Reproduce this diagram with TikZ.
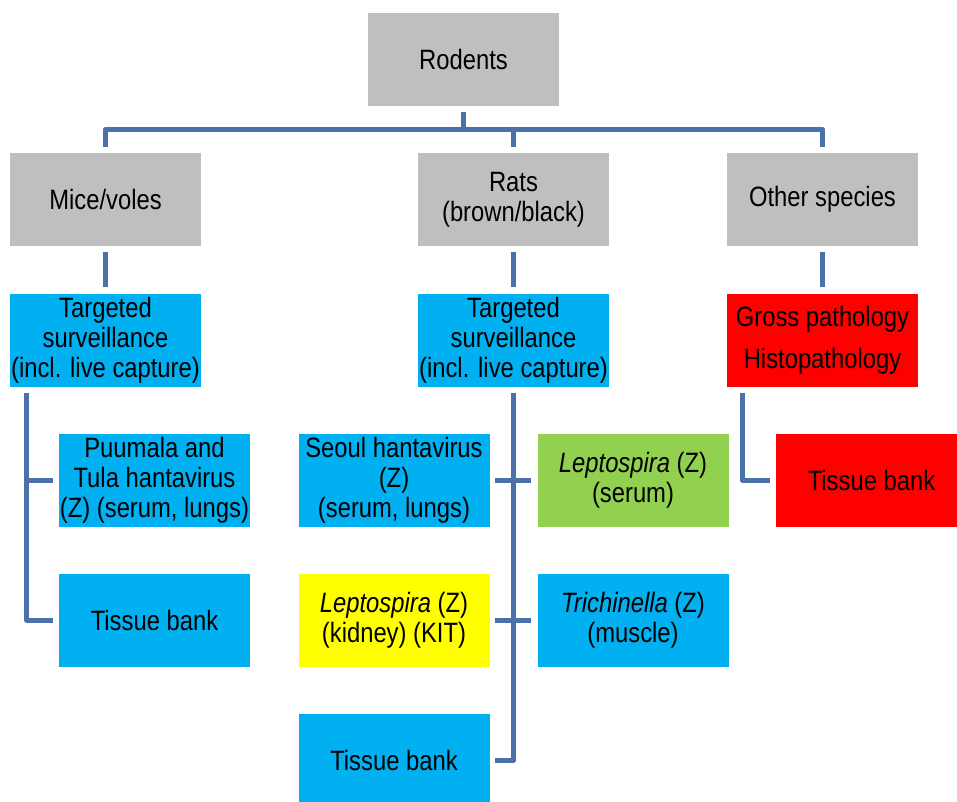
\documentclass[tikz,border=0pt]{standalone}
\usepackage{fontspec}
\setmainfont{Liberation Sans}[FakeStretch=0.85]
\usetikzlibrary{calc}
\definecolor{boxgray}{RGB}{191,191,191}
\definecolor{boxcyan}{RGB}{0,176,240}
\definecolor{boxred}{RGB}{255,0,0}
\definecolor{boxyellow}{RGB}{255,255,0}
\definecolor{boxgreen}{RGB}{146,208,80}
\definecolor{linkblue}{RGB}{74,114,168}
\tikzset{
  box/.style={rectangle, minimum width=191pt, minimum height=93pt, inner sep=0pt, align=center,
    font=\fontsize{28}{30}\selectfont, text=black},
  gbox/.style={box, fill=boxgray},
  cbox/.style={box, fill=boxcyan},
  rbox/.style={box, fill=boxred},
  ybox/.style={box, fill=boxyellow},
  grbox/.style={box, fill=boxgreen},
  link/.style={draw=linkblue, line width=5pt, line join=round}
}
\begin{document}
\begin{tikzpicture}[x=1pt,y=-1pt]
\useasboundingbox (0,0) rectangle (957,801);
\node[gbox] (rod) at (463.5,59.5) {Rodents};
\node[gbox] (mice) at (105.5,199.5) {Mice/voles};
\node[gbox] (rats) at (513.5,199.5) {Rats\\(brown/black)};
\node[gbox] (other) at (822.5,199.5) {Other species};
\node[cbox] (tsL) at (105.5,340) {Targeted\\surveillance\\(incl. live capture)};
\node[cbox] (tsM) at (513.5,340) {Targeted\\surveillance\\(incl. live capture)};
\node[rbox, font=\fontsize{28}{42}\selectfont] (gross) at (822.5,340) {Gross pathology\\Histopathology};
\node[cbox] (puu) at (154.5,480.5) {Puumala and\\Tula hantavirus\\(Z) (serum, lungs)};
\node[cbox] (tbL) at (154.5,620) {Tissue bank};
\node[cbox] (seoul) at (394,480.5) {Seoul hantavirus\\(Z)\\(serum, lungs)};
\node[ybox] (lepk) at (394,620.5) {\textit{Leptospira} (Z)\\(kidney) (KIT)};
\node[cbox] (tbM) at (394,760.5) {Tissue bank};
\node[grbox] (leps) at (633,480.5) {\textit{Leptospira} (Z)\\(serum)};
\node[cbox] (trich) at (633,620.5) {\textit{Trichinella} (Z)\\(muscle)};
\node[rbox] (tbR) at (871.5,480.5) {Tissue bank};
% top tree
\coordinate (hub) at ($(rod.south)+(0,23)$);
\draw[link] ($(rod.south)+(0,6)$) -- (hub);
\draw[link] ($(mice.north)+(0,-6)$) |- (hub) -| ($(other.north)+(0,-6)$);
\draw[link] ($(rats.north)+(0,-6)$) -- (rats.north |- hub);
\draw[link] ($(mice.south)+(0,6)$) -- ($(tsL.north)+(0,-6)$);
\draw[link] ($(rats.south)+(0,6)$) -- ($(tsM.north)+(0,-6)$);
\draw[link] ($(other.south)+(0,6)$) -- ($(gross.north)+(0,-6)$);
% left branch
\coordinate (lt) at ($(tsL.south west)+(17,6)$);
\draw[link] (lt) |- ($(tbL.west)+(-6,0)$);
\draw[link] (lt |- puu.west) -- ($(puu.west)+(-6,0)$);
% middle branch
\coordinate (mt) at ($(tsM.south)+(0,6)$);
\draw[link] (mt) |- ($(tbM.east)+(5,0)$);
\draw[link] ($(seoul.east)+(5,0)$) -- ($(leps.west)+(-6,0)$);
\draw[link] ($(lepk.east)+(5,0)$) -- ($(trich.west)+(-6,0)$);
% right branch
\coordinate (rt) at ($(gross.south west)+(16,6)$);
\draw[link] (rt) |- ($(tbR.west)+(-6,0)$);
\end{tikzpicture}
\end{document}
